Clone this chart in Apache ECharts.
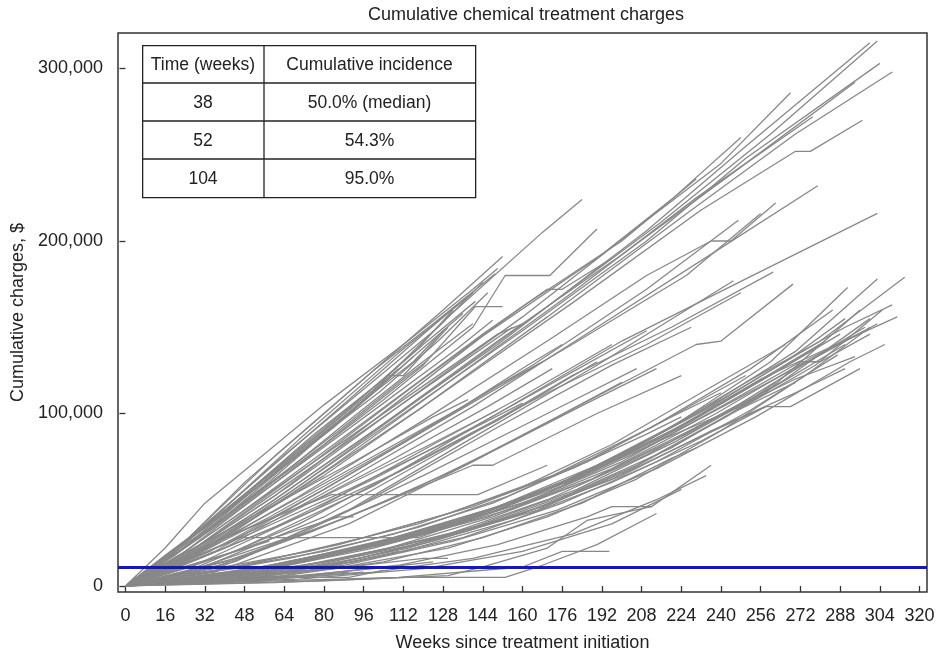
<!DOCTYPE html>
<html>
<head>
<meta charset="utf-8" />
<title>Cumulative chemical treatment charges</title>
<script src="https://cdn.jsdelivr.net/npm/echarts@6/dist/echarts.min.js"></script>
<style>
  html, body { margin: 0; padding: 0; background: #fff; }
  #main { width: 936px; height: 654px; }
</style>
</head>
<body>
<div id="main"></div>
<script>
// ---- data (weeks, cumulative charges in thousands of $) ----
var weekTicks = [0, 16, 32, 48, 64, 80, 96, 112, 128, 144, 160, 176, 192, 208, 224, 240, 256, 272, 288, 304, 320];
var chargeTicks = [0, 100000, 200000, 300000];
var threshold = 11000;

var tableHeader = ['Time (weeks)', 'Cumulative incidence'];
var tableWeeks = ['38', '52', '104'];
var tableIncidence = ['50.0% (median)', '54.3%', '95.0%'];

// steep group
var steepLines = [
  [[0,0],[16,22],[32,48],[48,67],[80,105],[112,140],[140,172],[150,184]],
  [[0,0],[20,20],[48,60],[96,120],[128,160],[152,191]],
  [[0,0],[24,26],[60,75],[100,125],[124,152],[149,181]],
  [[0,0],[30,32],[70,85],[110,135],[140,170]],
  [[0,0],[16,16],[50,58],[90,108],[120,146],[138,168]],
  [[0,0],[28,30],[64,76],[96,114],[126,150],[144,176]],
  [[0,0],[20,18],[56,62],[88,100],[118,138],[132,160]],
  [[0,0],[32,34],[72,82],[104,120],[120,140],[141,165]],
  [[0,0],[12,10],[40,44],[80,90],[112,128],[136,158]],
  [[0,0],[26,24],[60,66],[100,112],[116,130],[128,148]],
  [[0,0],[36,38],[76,88],[106,122],[112,122],[130,150]],
  [[0,0],[18,20],[52,56],[84,92],[100,112],[116,133]],
  [[0,0],[30,28],[68,74],[98,110],[110,126]],
  [[0,0],[40,42],[78,86],[102,112],[126,142],[146,170]],
  [[0,0],[22,20],[54,54],[90,96],[118,128],[140,152]],
  [[0,0],[8,6],[40,40],[86,90],[112,120],[122,131]],
  [[0,0],[34,32],[70,70],[104,106],[134,138],[148,154]],
  [[0,0],[44,44],[80,82],[120,128],[141,162],[152,162]],
  [[0,0],[22,18],[56,52],[90,86],[120,116],[150,146],[160,152]],
  [[0,0],[28,22],[62,56],[98,92],[132,126],[156,150]],
  [[0,0],[14,10],[46,42],[82,80],[114,114],[144,146],[170,172],[176,172],[196,190]]
];

// long straight group
var longLines = [
  [[0,0],[24,16],[60,50],[100,90],[150,140],[210,206],[250,255],[300,315]],
  [[0,0],[30,20],[70,58],[120,110],[170,162],[215,210],[260,262],[303,316]],
  [[0,0],[20,12],[64,52],[110,98],[160,148],[210,200],[250,248],[304,303]],
  [[0,0],[28,18],[72,58],[120,104],[170,156],[230,220],[270,262],[309,298]],
  [[0,0],[16,10],[56,46],[104,94],[150,142],[200,192],[250,245],[294,292]],
  [[0,0],[32,22],[80,64],[128,112],[180,164],[232,218],[270,252],[276,252],[297,270]],
  [[0,0],[24,18],[66,58],[110,104],[160,156],[210,212],[240,245],[268,286]],
  [[0,0],[36,24],[84,70],[130,118],[180,170],[230,225],[277,272]],
  [[0,0],[20,14],[60,52],[100,96],[144,145],[190,190],[220,224],[248,260]],
  [[0,0],[40,22],[90,62],[140,104],[190,150],[240,196],[279,232]],
  [[0,0],[44,20],[100,58],[150,100],[200,142],[250,178],[303,216]],
  [[0,0],[20,18],[56,58],[96,108],[130,156],[168,205],[184,224]],
  [[0,0],[24,20],[64,64],[104,108],[140,150],[153,180],[171,180],[190,207]],
  [[0,0],[30,24],[74,70],[118,118],[160,162],[200,200],[230,236]],
  [[0,0],[26,16],[70,52],[120,96],[170,142],[210,180],[236,200],[244,200],[262,222]],
  [[0,0],[34,20],[80,56],[130,98],[180,140],[226,180],[256,216]],
  [[0,0],[18,10],[58,40],[110,82],[164,128],[210,172],[247,212]]
];

// middle group
var middleLines = [
  [[0,0],[30,10],[80,40],[130,80],[180,122],[220,150],[261,182]],
  [[0,0],[40,12],[90,44],[140,86],[190,128],[245,177]],
  [[0,0],[36,8],[90,36],[140,72],[190,110],[230,140],[240,142],[269,175]],
  [[0,0],[24,8],[70,36],[120,74],[170,112],[210,140],[248,170]],
  [[0,0],[44,14],[96,48],[150,92],[196,128],[228,150]],
  [[0,0],[20,6],[70,30],[120,64],[170,100],[206,126]],
  [[0,0],[50,18],[100,46],[140,70],[148,70],[190,100],[224,122]],
  [[0,0],[28,12],[76,44],[124,82],[160,110],[196,140]],
  [[0,0],[12,8],[48,34],[96,72],[136,104],[162,128],[176,140]],
  [[0,0],[36,20],[80,56],[120,90],[150,116],[168,130]],
  [[0,0],[20,10],[60,34],[100,62],[140,92],[180,124],[210,148]],
  [[0,0],[30,16],[70,40],[110,66],[150,96],[190,130]],
  [[0,0],[16,10],[50,30],[90,56],[130,84],[160,106]],
  [[0,0],[40,14],[90,40],[134,68],[174,98],[200,118]],
  [[0,0],[24,14],[66,42],[106,72],[146,104],[172,126]],
  [[0,0],[10,8],[44,30],[80,52],[120,80],[150,102]],
  [[0,0],[34,10],[76,32],[116,56],[156,84],[186,106],[214,126]],
  [[0,0],[20,16],[56,44],[92,72],[124,98],[138,108]]
];

// slow convex group
var slowLines = [
  [[0,0],[40,6],[80,18],[120,32],[160,50],[200,76],[240,108],[280,142],[314,179]],
  [[0,0],[30,4],[70,14],[110,28],[150,46],[190,70],[230,100],[270,136],[303,178]],
  [[0,0],[48,8],[96,22],[140,40],[180,62],[220,92],[260,130],[291,173]],
  [[0,0],[36,5],[84,18],[128,34],[170,56],[210,84],[250,118],[290,150],[309,163]],
  [[0,0],[44,6],[90,20],[134,36],[176,58],[216,86],[256,120],[311,156]],
  [[0,0],[24,4],[72,14],[120,30],[164,50],[204,76],[246,108],[280,134],[303,152]],
  [[0,0],[52,8],[100,22],[146,40],[188,62],[230,92],[270,120],[294,133]],
  [[0,0],[40,10],[86,24],[130,42],[172,64],[212,92],[252,126],[285,160]],
  [[0,0],[20,3],[64,12],[110,26],[154,44],[196,68],[238,100],[276,132],[298,148]],
  [[0,0],[56,10],[104,24],[150,44],[190,68],[228,96],[262,124],[288,146]],
  [[0,0],[32,6],[76,16],[120,30],[160,48],[200,72],[240,104],[272,130],[280,130],[300,146]],
  [[0,0],[46,4],[94,16],[138,32],[180,54],[220,80],[258,112],[296,160]],
  [[0,0],[60,12],[108,28],[150,46],[186,66],[220,90],[254,118],[282,142]],
  [[0,0],[28,8],[74,20],[118,36],[158,56],[196,82],[232,112],[266,140]],
  [[0,0],[38,2],[88,12],[132,26],[174,44],[214,68],[254,98],[292,130],[306,140]],
  [[0,0],[60,4],[110,12],[150,24],[186,40],[196,46],[212,46],[236,70]],
  [[0,0],[44,8],[92,22],[136,38],[178,60],[218,86],[248,104],[262,118]],
  [[0,0],[34,4],[80,14],[126,28],[168,46],[206,70],[244,100],[270,118]],
  [[0,0],[64,6],[112,20],[156,38],[196,60],[232,84],[258,104]],
  [[0,0],[26,6],[66,16],[108,30],[148,48],[186,72],[222,100],[250,122]],
  [[0,0],[40,10],[80,20],[118,34],[154,52],[188,74],[220,98],[240,112]],
  [[0,0],[54,4],[104,14],[144,28],[184,48],[220,74],[230,80]],
  [[0,0],[48,12],[96,28],[140,46],[180,68],[210,88],[224,98]],
  [[0,0],[70,10],[116,24],[160,42],[200,64],[236,90],[270,112],[290,126]],
  [[0,0],[30,2],[84,10],[130,22],[170,40],[206,62],[240,90],[274,122],[300,150]],
  [[0,0],[42,5],[88,16],[130,30],[170,50],[210,76],[248,106],[284,138],[298,150]],
  [[0,0],[50,6],[96,18],[140,34],[182,56],[222,84],[262,116],[290,140]],
  [[0,0],[36,3],[82,12],[124,26],[166,44],[204,68],[242,98],[278,128],[305,160]],
  [[0,0],[58,8],[106,22],[148,40],[188,62],[226,88],[264,118],[300,155]],
  [[0,0],[44,4],[92,14],[136,28],[176,48],[214,72],[252,102],[287,134]],
  [[0,0],[30,5],[78,16],[122,32],[164,52],[202,78],[236,104],[268,132],[290,155]],
  [[0,0],[66,8],[114,22],[156,40],[196,62],[234,88],[258,104],[268,104],[296,126]],
  [[0,0],[52,10],[98,24],[142,42],[184,64],[224,92],[262,124],[280,140]]
];

// low and short follow-up lines
var lowLines = [
  [[0,0],[60,3],[110,5],[160,11],[176,20],[195,20]],
  [[0,0],[60,2],[113,5],[153,5],[168,12],[190,24],[214,42]],
  [[0,0],[80,3],[130,6],[144,11],[170,22],[186,38],[212,46]],
  [[0,0],[20,4],[48,8],[62,8]],
  [[0,0],[16,8],[40,18],[58,26]],
  [[0,0],[30,2],[76,6],[96,8]],
  [[0,0],[24,10],[60,28],[86,40],[92,40]],
  [[0,0],[12,2],[50,5],[90,5],[104,9]],
  [[0,0],[30,22],[60,40],[83,53],[142,53],[170,70]],
  [[0,0],[20,12],[46,28],[118,28],[150,44],[180,62]],
  [[0,0],[40,4],[70,6],[100,10],[124,14]],
  [[0,0],[18,6],[44,10],[84,12],[110,20]],
  [[0,0],[50,3],[100,8],[140,16],[180,30],[214,50],[234,64]],
  [[0,0],[70,4],[120,10],[160,20],[196,36],[224,56]],
  [[0,0],[36,4],[72,6],[90,8]],
  [[0,0],[26,3],[64,5],[80,5]],
  [[0,0],[44,6],[84,10],[120,16],[130,16]]
];

var allLines = steepLines.concat(longLines, middleLines, slowLines, lowLines);

var series = allLines.map(function (pts) {
  return {
    type: 'line',
    data: pts.map(function (p) { return [p[0], p[1] * 1000]; }),
    showSymbol: false,
    silent: true,
    lineStyle: { color: '#888888', width: 1.3 },
    z: 2
  };
});

// horizontal reference line
series.push({
  type: 'line',
  data: [],
  silent: true,
  z: 5,
  markLine: {
    silent: true,
    symbol: 'none',
    label: { show: false },
    lineStyle: { color: '#1414c8', width: 3, type: 'solid' },
    data: [{ yAxis: threshold }]
  }
});

// table drawn as graphic
var font = 'Liberation Sans, Arial, sans-serif';
var tblLeft = 142, tblTop = 45, rowH = 38, col1W = 122, col2W = 211;
var tableRows = [tableHeader].concat(tableWeeks.map(function (w, i) { return [w, tableIncidence[i]]; }));
var tableGraphic = [];
tableGraphic.push({
  type: 'rect', left: tblLeft, top: tblTop, z: 10,
  shape: { width: col1W + col2W, height: rowH * tableRows.length },
  style: { fill: '#fff', stroke: '#222', lineWidth: 1.3 }
});
for (var r = 1; r < tableRows.length; r++) {
  tableGraphic.push({
    type: 'line', z: 11,
    shape: { x1: tblLeft, y1: tblTop + r * rowH, x2: tblLeft + col1W + col2W, y2: tblTop + r * rowH },
    style: { stroke: '#222', lineWidth: 1.3 }
  });
}
tableGraphic.push({
  type: 'line', z: 11,
  shape: { x1: tblLeft + col1W, y1: tblTop, x2: tblLeft + col1W, y2: tblTop + rowH * tableRows.length },
  style: { stroke: '#222', lineWidth: 1.3 }
});
tableRows.forEach(function (row, r) {
  [tblLeft + col1W / 2, tblLeft + col1W + col2W / 2].forEach(function (cx, c) {
    tableGraphic.push({
      type: 'text', z: 12,
      x: cx, y: tblTop + r * rowH + rowH / 2 + 1,
      style: {
        text: row[c], fill: '#222', fontSize: 17.5, fontFamily: font,
        align: 'center', verticalAlign: 'middle'
      }
    });
  });
});

var chart = echarts.init(document.getElementById('main'), null, { renderer: 'canvas' });
chart.setOption({
  animation: false,
  backgroundColor: '#fff',
  title: {
    text: 'Cumulative chemical treatment charges',
    left: 521, top: 1, textAlign: 'center',
    textStyle: { fontSize: 18, fontWeight: 'normal', color: '#222', fontFamily: font }
  },
  grid: {
    left: 118, right: 9, top: 33, bottom: 62,
    outerBoundsMode: 'none',
    show: true, borderColor: '#333', borderWidth: 1.5, backgroundColor: '#fff'
  },
  xAxis: {
    type: 'value', min: -3, max: 323,
    name: 'Weeks since treatment initiation',
    nameLocation: 'middle', nameGap: 42,
    nameTextStyle: { fontSize: 18, color: '#222', fontFamily: font },
    splitLine: { show: false },
    axisLine: { show: false },
    axisTick: { show: true, length: 6, customValues: weekTicks, lineStyle: { color: '#333', width: 1.3 } },
    axisLabel: { customValues: weekTicks, margin: 15, fontSize: 18, color: '#222', fontFamily: font }
  },
  yAxis: {
    type: 'value', min: -3500, max: 320600,
    name: 'Cumulative charges, $',
    nameLocation: 'middle', nameGap: 88, nameRotate: 90,
    nameTextStyle: { fontSize: 18, color: '#222', fontFamily: font },
    splitLine: { show: false },
    axisLine: { show: false },
    axisTick: { show: true, length: 6, customValues: chargeTicks, lineStyle: { color: '#333', width: 1.3 } },
    axisLabel: {
      customValues: chargeTicks, margin: 15, fontSize: 18, color: '#222', fontFamily: font,
      formatter: function (v) { return v.toLocaleString('en-US'); }
    }
  },
  graphic: tableGraphic,
  series: series
});
</script>
</body>
</html>
